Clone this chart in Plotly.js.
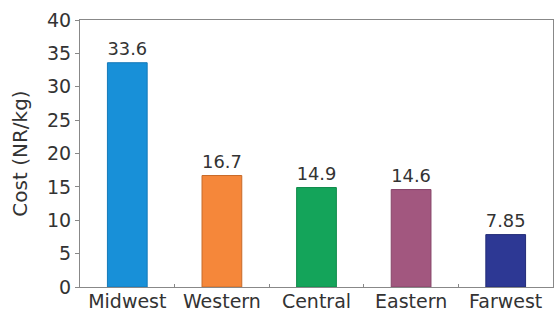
<!DOCTYPE html>
<html>
<head>
<meta charset="utf-8">
<script src="https://cdn.plot.ly/plotly-3.0.1.min.js"></script>
<style>html,body{margin:0;padding:0;background:#fff;}#chart{width:554px;height:314px;}</style>
</head>
<body>
<div id="chart"></div>
<script>
var regions = ["Midwest", "Western", "Central", "Eastern", "Farwest"];
var costs = [33.6, 16.7, 14.9, 14.6, 7.85];
var valueLabels = ["33.6", "16.7", "14.9", "14.6", "7.85"];
var barColors = ["#1890d8", "#f5873a", "#14a45a", "#a2577f", "#2d3894"];
var edgeColors = ["#1478b8", "#c86a28", "#0f8a4a", "#864468", "#232c78"];

var FONT = "DejaVu Sans, Arial, sans-serif";

Plotly.newPlot("chart", [{
  type: "bar",
  x: regions,
  y: costs,
  text: valueLabels,
  textposition: "outside",
  cliponaxis: false,
  textfont: {family: FONT, size: 20, color: "#333"},
  marker: {color: barColors, line: {color: edgeColors, width: 1}},
  width: 0.42,
  hoverinfo: "none"
}], {
  width: 554, height: 314,
  margin: {l: 80, r: 1, t: 20, b: 27},
  paper_bgcolor: "#fff", plot_bgcolor: "#fff",
  showlegend: false,
  font: {family: FONT, color: "#333"},
  xaxis: {
    range: [-0.5, 4.5],
    showline: true, linecolor: "#888", linewidth: 1, mirror: true,
    ticks: "inside", ticklen: 3, tickcolor: "#888", tickson: "boundaries",
    tickangle: 0, ticklabelstandoff: -3,
    tickfont: {family: FONT, size: 19, color: "#333"},
    showgrid: false, zeroline: false, fixedrange: true
  },
  yaxis: {
    range: [0, 40], dtick: 5,
    showline: true, linecolor: "#888", linewidth: 1, mirror: true,
    ticks: "outside", ticklen: 4, tickcolor: "#888",
    tickfont: {family: FONT, size: 19, color: "#333"},
    showgrid: false, zeroline: false,
    title: {text: "Cost (NR/kg)", font: {family: FONT, size: 20, color: "#333"}, standoff: 14},
    fixedrange: true
  },
  bargap: 0.58
}, {displayModeBar: false, staticPlot: true});
</script>
</body>
</html>
